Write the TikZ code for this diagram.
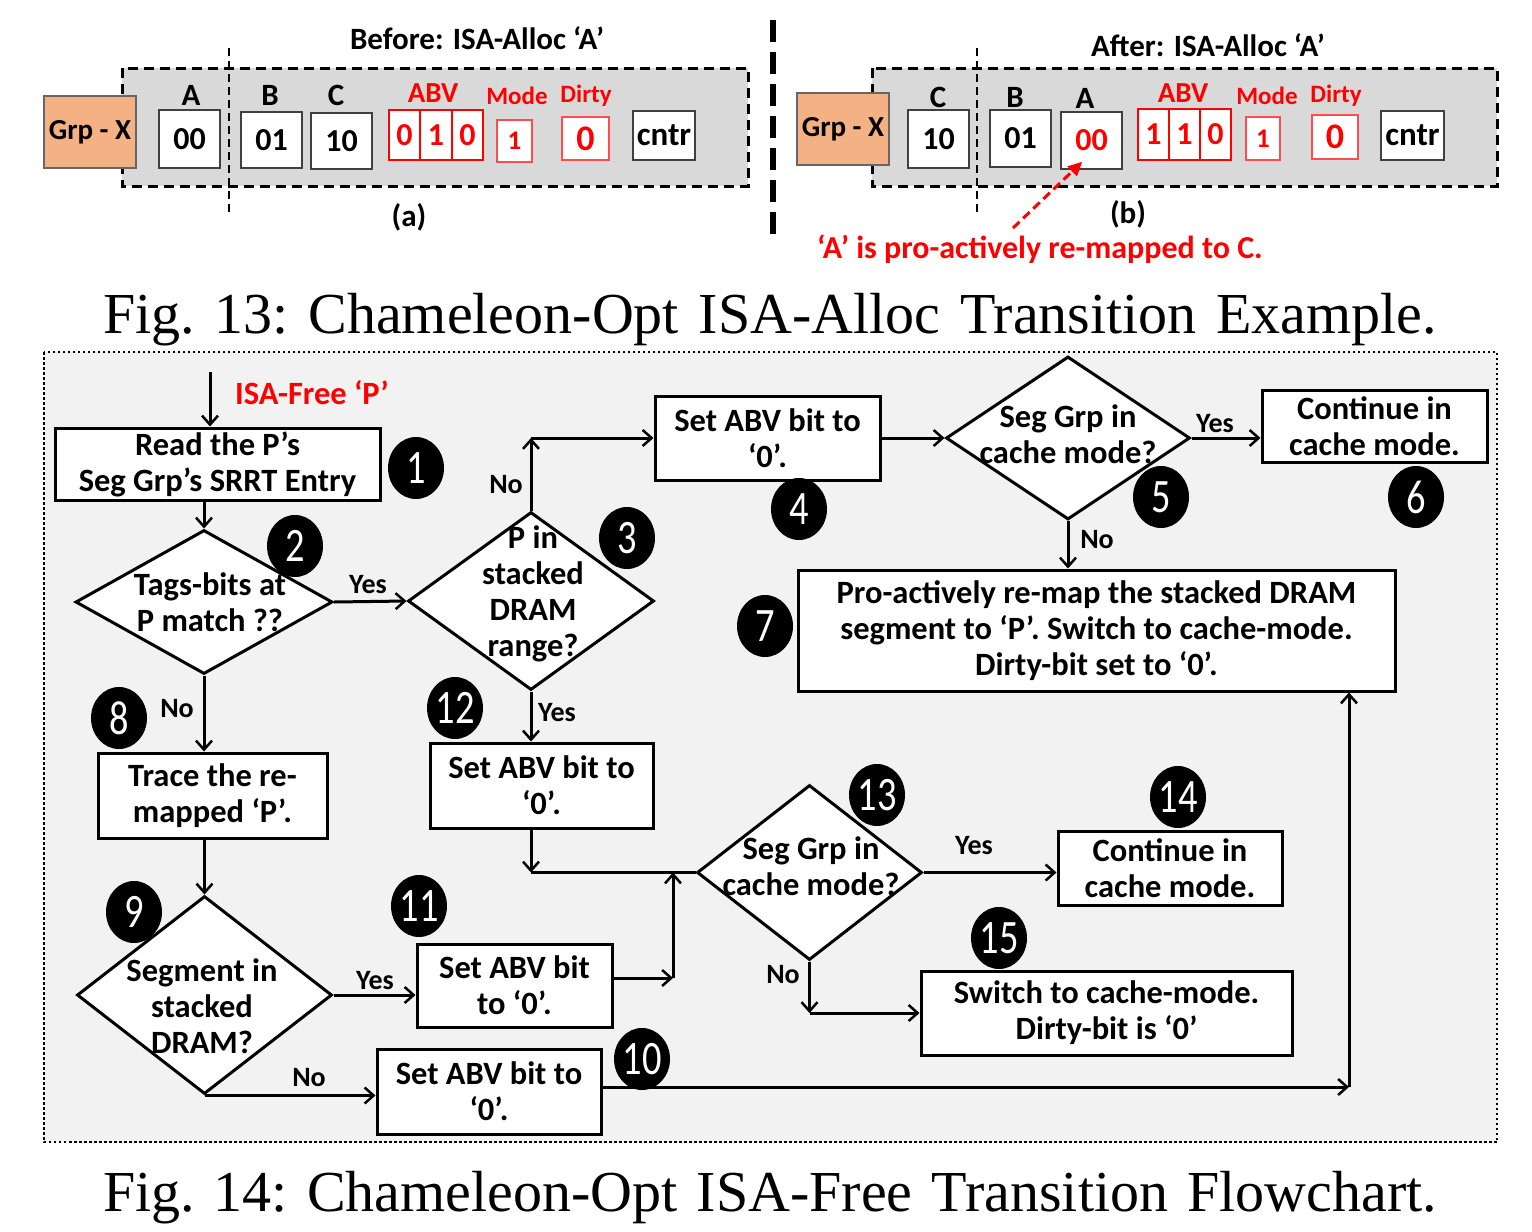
\documentclass[tikz,border=0pt]{standalone}
\usepackage{fontspec}
\setmainfont{Liberation Serif}
\newfontfamily\cf{Carlito}
\usetikzlibrary{arrows.meta,shapes.geometric}
\definecolor{grpor}{RGB}{244,177,131}
\definecolor{panelg}{RGB}{217,217,217}
\definecolor{flowg}{RGB}{242,242,242}
\definecolor{rd}{RGB}{255,0,0}
\newcommand\fs[2]{\fontsize{#1}{#2}\selectfont}
\newcommand\bdg[1]{\scalebox{0.8}[1]{#1}}
\tikzset{
  fbox/.style={draw, line width=3pt, fill=white, inner sep=0pt, align=center, font=\cf\bfseries\fs{32.5}{36}},
  fdia/.style={diamond, draw, line width=3pt, fill=white, inner sep=0pt},
  ftxt/.style={font=\cf\bfseries\fs{32.5}{36}, align=center, inner sep=0pt},
  yn/.style={font=\cf\bfseries\fs{28}{28}, inner sep=0pt},
  badge/.style={ellipse, fill=black, minimum width=56pt, minimum height=62pt, inner sep=0pt, text=white, font=\cf\fs{48}{48}},
  arr/.style={line width=3pt, -{Straight Barb[length=9pt,width=16pt,line width=2.5pt]}},
  plain/.style={line width=3pt},
  cell/.style={draw=black!75, line width=1.5pt, fill=white, inner sep=0pt, font=\cf\bfseries\fs{32}{32}},
  rcell/.style={draw=rd, line width=2pt, fill=white, inner sep=0pt, text=rd, font=\cf\bfseries\fs{32}{32}},
  grp/.style={draw=black!60, line width=1.2pt, fill=grpor, inner sep=0pt, minimum width=92pt, minimum height=72pt, font=\cf\bfseries\fs{29}{29}},
  lab/.style={font=\cf\bfseries\fs{31}{31}, inner sep=0pt},
  rlab/.style={font=\cf\bfseries\fs{25}{25}, inner sep=0pt, text=rd},
  figcap/.style={font=\fs{58}{60}\frenchspacing, inner sep=0pt, anchor=base}
}
\begin{document}
\begin{tikzpicture}[x=1pt,y=-1pt]
\useasboundingbox (0,0) rectangle (1532,1232);
% ---------------- Fig 13 -----------------
\node[lab] (ha) at (477,38) {Before: ISA-Alloc ‘A’};
\node[lab] (hb) at (1208,45) {After: ISA-Alloc ‘A’};
\draw[fill=panelg, line width=3pt, dash pattern=on 10pt off 6pt] (122,68) rectangle (748,186);
\draw[fill=panelg, line width=3pt, dash pattern=on 10pt off 6pt] (872,68) rectangle (1497,186);
\draw[line width=1.8pt, dash pattern=on 8pt off 5pt] (229,48) -- (229,212);
\draw[line width=1.8pt, dash pattern=on 8pt off 5pt] (977,48) -- (977,212);
\draw[line width=6pt, dash pattern=on 22pt off 10pt] (773,20) -- (773,236);
% (a)
\node[grp] (ga) at (90,132) {Grp - X};
\node[cell, minimum width=61pt, minimum height=58pt] (aA) at (189.5,139) {00};
\node[cell, minimum width=61pt, minimum height=56pt] (aB) at (271.5,140) {01};
\node[cell, minimum width=61pt, minimum height=56pt] (aC) at (341.5,141) {10};
\node[lab] (aAl) at (191,95) {A};
\node[lab] (aBl) at (270,95) {B};
\node[lab] (aCl) at (336,95) {C};
\node[rcell, minimum width=31pt, minimum height=50pt] (av1) at (404.5,135) {0};
\node[rcell, minimum width=32pt, minimum height=50pt] (av2) at (436,135) {1};
\node[rcell, minimum width=31pt, minimum height=50pt] (av3) at (467.5,135) {0};
\node[rlab, font=\cf\bfseries\fs{29}{29}] (aABV) at (433,93) {ABV};
\node[rcell, draw=rd!70, line width=1.5pt, minimum width=35pt, minimum height=42pt, font=\cf\bfseries\fs{27}{27}] (am) at (514.5,141) {1};
\node[rlab] (aMode) at (517,96) {Mode};
\node[rcell, draw=rd!70, line width=1.5pt, minimum width=47pt, minimum height=43pt, font=\cf\bfseries\fs{36}{36}] (ad) at (585.5,138.5) {0};
\node[rlab] (aDirty) at (586,96) {Dirty};
\node[cell, minimum width=62pt, minimum height=49pt, font=\cf\bfseries\fs{33}{33}] (ac) at (664,135.5) {cntr};
\node[lab] (alab) at (409,217) {(a)};
% (b)
\node[grp] (gb) at (843,129) {Grp - X};
\node[cell, minimum width=61pt, minimum height=58pt] (bC) at (938.5,139) {10};
\node[cell, minimum width=61pt, minimum height=57pt] (bB) at (1020.5,138.5) {01};
\node[cell, minimum width=61pt, minimum height=57pt, text=rd] (bA) at (1091.5,140.5) {00};
\node[lab] (bCl) at (938,97) {C};
\node[lab] (bBl) at (1015,97) {B};
\node[lab] (bAl) at (1085,98) {A};
\node[rcell, minimum width=31pt, minimum height=51pt] (bv1) at (1153.5,134.5) {1};
\node[rcell, minimum width=31pt, minimum height=51pt] (bv2) at (1184.5,134.5) {1};
\node[rcell, minimum width=31pt, minimum height=51pt] (bv3) at (1215.5,134.5) {0};
\node[rlab, font=\cf\bfseries\fs{29}{29}] (bABV) at (1183,93) {ABV};
\node[rcell, draw=rd!70, line width=1.5pt, minimum width=34pt, minimum height=43pt, font=\cf\bfseries\fs{27}{27}] (bm) at (1263,138.5) {1};
\node[rlab] (bMode) at (1267,96) {Mode};
\node[rcell, draw=rd!70, line width=1.5pt, minimum width=46pt, minimum height=44pt, font=\cf\bfseries\fs{36}{36}] (bd) at (1335,137) {0};
\node[rlab] (bDirty) at (1336,96) {Dirty};
\node[cell, minimum width=63pt, minimum height=49pt, font=\cf\bfseries\fs{33}{33}] (bc) at (1412.5,135.5) {cntr};
\node[lab] (blab) at (1128,214) {(b)};
\node[lab, text=rd, font=\cf\bfseries\fs{32}{32}] (remap) at (1040,249) {‘A’ is pro-actively re-mapped to C.};
\coordinate (rs) at (1013,228);
\draw[rd, line width=3pt, dash pattern=on 9pt off 5pt, -{Triangle[length=14pt,width=13pt]}] (rs) -- ([xshift=22pt,yshift=8pt]bA.south west);
\node[figcap] (cap1) at (770,333) {\makebox[1334pt][s]{Fig. 13: Chameleon-Opt ISA-Alloc Transition Example.}};
% ---------------- Fig 14 -----------------
\draw[fill=flowg, line width=2.5pt, dash pattern=on 2.5pt off 2.5pt] (44,352) rectangle (1497,1142);
\node[figcap] (cap2) at (770,1211) {\makebox[1334pt][s]{Fig. 14: Chameleon-Opt ISA-Free Transition Flowchart.}};
% boxes
\node[fbox, minimum width=325pt, minimum height=72pt] (b1) at (217.5,464) {Read the P’s\\Seg Grp’s SRRT Entry};
\node[fbox, minimum width=225pt, minimum height=84pt] (b4) at (767.5,438) {Set ABV bit to\\‘0’.};
\node[fbox, minimum width=225pt, minimum height=72pt] (b6) at (1374.5,426) {Continue in\\cache mode.};
\node[fbox, minimum width=597pt, minimum height=121pt] (b7) at (1096.5,630.5) {Pro-actively re-map the stacked DRAM\\segment to ‘P’. Switch to cache-mode.\\Dirty-bit set to ‘0’.};
\node[fbox, minimum width=229pt, minimum height=85pt] (b8) at (212.5,795.5) {Trace the re-\\mapped ‘P’.};
\node[fbox, minimum width=223pt, minimum height=85pt] (b12) at (541.5,785.5) {Set ABV bit to\\‘0’.};
\node[fbox, minimum width=195pt, minimum height=83pt] (b11) at (514.5,985.5) {Set ABV bit\\to ‘0’.};
\node[fbox, minimum width=224pt, minimum height=85pt] (b10) at (489,1091.5) {Set ABV bit to\\‘0’.};
\node[fbox, minimum width=224pt, minimum height=74pt] (b14) at (1170,868) {Continue in\\cache mode.};
\node[fbox, minimum width=371pt, minimum height=84pt] (b15) at (1106.5,1013) {Switch to cache-mode.\\Dirty-bit is ‘0’};
% diamonds
\node[fdia, minimum width=257pt, minimum height=144pt] (d2) at (204,602) {};
\node[ftxt] (d2t) at (210,602) {Tags-bits at\\P match ??};
\node[fdia, minimum width=246pt, minimum height=178pt] (d3) at (531,601) {};
\node[ftxt] (d3t) at (533,594) {P in\\stacked\\DRAM\\range?};
\node[fdia, minimum width=244pt, minimum height=163pt] (d5) at (1068,438) {};
\node[ftxt] (d5t) at (1068,434) {Seg Grp in\\cache mode?};
\node[fdia, minimum width=255pt, minimum height=198pt] (d9) at (204.5,995) {};
\node[ftxt] (d9t) at (202,1006) {Segment in\\stacked\\DRAM?};
\node[fdia, minimum width=225pt, minimum height=175pt] (d13) at (809.5,872.5) {};
\node[ftxt] (d13t) at (811,866) {Seg Grp in\\cache mode?};
% start
\coordinate (s0) at (210,372);
\draw[arr] (s0) -- (s0 |- b1.north);
\node[font=\cf\bfseries\fs{32.5}{32}, text=rd, inner sep=0pt] (isa) at (312,393) {ISA-Free ‘P’};
% connectors
\draw[arr] (d2.north |- b1.south) -- (d2.north);
\draw[arr] (d2.east) -- (d3.west);
\coordinate (c3) at (d3.north |- b4.west);
\draw[arr] (d3.north) -- (c3);
\draw[arr] (c3) -- (b4.west);
\draw[arr] (b4.east) -- (d5.west);
\draw[arr] (d5.east) -- (d5.east -| b6.west);
\draw[arr] (d5.south) -- (d5.south |- b7.north);
\draw[arr] (d2.south) -- (d2.south |- b8.north);
\draw[arr] (d9.north |- b8.south) -- (d9.north);
\draw[arr] (d9.east) -- (d9.east -| b11.west);
\draw[arr] (d3.south) -- (d3.south |- b12.north);
\coordinate (j1) at (d3.south |- d13.west);
\draw[arr] (d3.south |- b12.south) -- (j1);
\draw[plain] (j1) -- (d13.west);
\coordinate (j2) at (673,978);
\draw[arr] (b11.east |- j2) -- (j2);
\draw[arr] (j2) -- (j2 |- d13.west);
\draw[arr] (d13.east) -- (d13.east -| b14.west);
\coordinate (j3) at (d13.south |- b15.west);
\draw[arr] (d13.south) -- (j3);
\draw[arr] (j3) -- (b15.west);
\draw[arr] (d9.south) -- (d9.south -| b10.west);
\coordinate (j4) at (1349,1087);
\draw[arr] (b10.east |- j4) -- (j4);
\draw[arr] (j4) -- (j4 |- b7.south);
% yes/no labels
\node[yn] (y1) at (368,585) {Yes};
\node[yn] (n1) at (506,485) {No};
\node[yn] (y2) at (1215,424) {Yes};
\node[yn] (n2) at (1097,540) {No};
\node[yn] (n3) at (177,709) {No};
\node[yn] (y3) at (557,713) {Yes};
\node[yn] (y4) at (375,981) {Yes};
\node[yn] (y5) at (974,846) {Yes};
\node[yn] (n4) at (783,975) {No};
\node[yn] (n5) at (309,1078) {No};
% badges
\node[badge] (k1) at (416,468) {\bdg{1}};
\node[badge] (k2) at (295,546) {\bdg{2}};
\node[badge] (k3) at (627,538) {\bdg{3}};
\node[badge] (k4) at (799,509) {\bdg{4}};
\node[badge] (k5) at (1161,497) {\bdg{5}};
\node[badge] (k6) at (1416,497) {\bdg{6}};
\node[badge] (k7) at (765,626) {\bdg{7}};
\node[badge] (k8) at (119,718) {\bdg{8}};
\node[badge] (k9) at (134,912) {\bdg{9}};
\node[badge] (k10) at (642,1059) {\bdg{10}};
\node[badge] (k11) at (419,906) {\bdg{11}};
\node[badge] (k12) at (455,708) {\bdg{12}};
\node[badge] (k13) at (877,795) {\bdg{13}};
\node[badge] (k14) at (1178,797) {\bdg{14}};
\node[badge] (k15) at (999,938) {\bdg{15}};
\end{tikzpicture}
\end{document}
